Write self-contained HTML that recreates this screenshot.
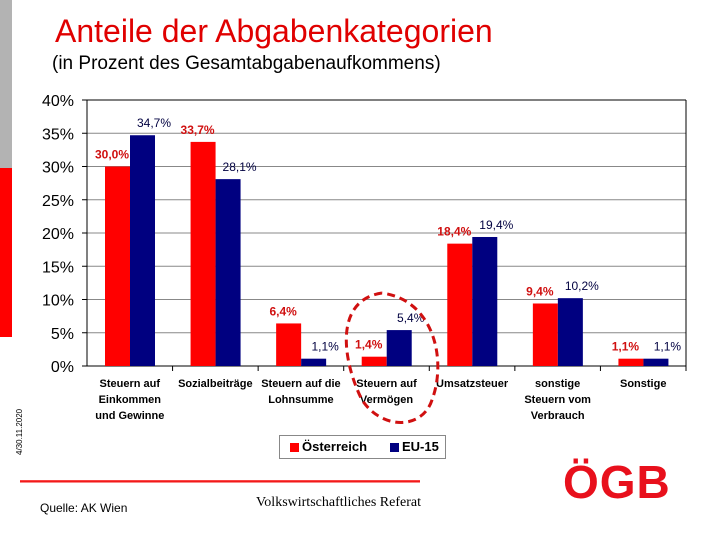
<!DOCTYPE html>
<html><head><meta charset="utf-8"><style>
body{margin:0;width:720px;height:540px;background:#fff;overflow:hidden;font-family:"Liberation Sans",Arial,sans-serif;position:relative}
.a{position:absolute}
</style></head><body>
<div class="a" style="left:0;top:0;width:12px;height:168px;background:#b3b3b3"></div>
<div class="a" style="left:0;top:168px;width:12px;height:169px;background:#ff0000"></div>
<div class="a" style="left:55px;top:13px;font-size:32px;color:#e00000">Anteile der Abgabenkategorien</div>
<div class="a" style="left:52px;top:53px;font-size:19px;color:#000">(in Prozent des Gesamtabgabenaufkommens)</div>
<div class="a" style="left:15px;top:455px;font-size:8px;transform:rotate(-90deg);transform-origin:0 0;white-space:nowrap">4/30.11.2020</div>
<svg class="a" style="left:0;top:0" width="720" height="540">
<g id="g"></g>
<path d="M382 293 C334 300 342 360 362 400 C382 430 422 430 432 400 C447 360 434 300 382 293" fill="none" stroke="#d01010" stroke-width="3" stroke-dasharray="8,5"/>
</svg>
<div class="a" style="left:279px;top:435px;width:165px;height:22px;border:1px solid #888;font-weight:bold;font-size:13px">
<span class="a" style="left:10px;top:7px;width:9px;height:9px;background:#f00"></span><span class="a" style="left:22px;top:3px">Österreich</span>
<span class="a" style="left:110px;top:7px;width:9px;height:9px;background:#000080"></span><span class="a" style="left:122px;top:3px">EU-15</span></div>
<div class="a" style="left:20px;top:480px;width:400px;height:3px;background:linear-gradient(#f66,#e00,#fcc)"></div>
<div class="a" style="left:40px;top:501px;font-size:12px">Quelle: AK Wien</div>
<div class="a" style="left:256px;top:495px;font-size:14px;font-family:'Liberation Serif',serif">Volkswirtschaftliches Referat</div>
<div class="a" style="left:563px;top:455px;font-size:46px;font-weight:bold;color:#e8101c;letter-spacing:1px">ÖGB</div>
<script>
const categories=[["Steuern auf","Einkommen","und Gewinne"],["Sozialbeiträge"],["Steuern auf die","Lohnsumme"],["Steuern auf","Vermögen"],["Umsatzsteuer"],["sonstige","Steuern vom","Verbrauch"],["Sonstige"]];
const austria=[30.0,33.7,6.4,1.4,18.4,9.4,1.1];
const eu15=[34.7,28.1,1.1,5.4,19.4,10.2,1.1];
const yTicks=[0,5,10,15,20,25,30,35,40];
const L=87,R=686,T=100,B=366,ymax=40;
const y=v=>B-(v/ymax)*(B-T);
const cw=(R-L)/categories.length;
const g=document.getElementById('g');const ns='http://www.w3.org/2000/svg';
function mk(t,a,txt){const e=document.createElementNS(ns,t);for(const k in a)e.setAttribute(k,a[k]);if(txt!==undefined)e.textContent=txt;g.appendChild(e);return e;}
const fmt=v=>v.toFixed(1).replace('.',',')+'%';
yTicks.forEach(t=>{const l=mk('line',{x1:L,x2:R,y1:y(t),y2:y(t),stroke:t==40?'#000':'#888','stroke-width':1});

const tx=mk('text',{x:74,y:y(t)+6,'text-anchor':'end','font-size':16,'font-family':'Liberation Sans'},t+'%');

mk('line',{x1:L-5,x2:L,y1:y(t),y2:y(t),stroke:'#000'});});
mk('line',{x1:L,x2:L,y1:T,y2:B,stroke:'#000'});mk('line',{x1:R,x2:R,y1:T,y2:B,stroke:'#000'});
mk('line',{x1:L,x2:R,y1:B,y2:B,stroke:'#000'});
categories.forEach((c,i)=>{const x0=L+i*cw;
mk('line',{x1:x0+cw,x2:x0+cw,y1:B,y2:B+5,stroke:'#000'});
const r=mk('rect',{x:x0+18,y:y(austria[i]),width:25,height:B-y(austria[i]),fill:'#ff0000'});

const b=mk('rect',{x:x0+43,y:y(eu15[i]),width:25,height:B-y(eu15[i]),fill:'#000080'});

const ra=mk('text',{x:x0+25,y:y(austria[i])-8,'text-anchor':'middle','font-size':12,'font-weight':'bold',fill:'#d01010','font-family':'Liberation Sans'},fmt(austria[i]));

const ea=mk('text',{x:x0+67,y:y(eu15[i])-8,'text-anchor':'middle','font-size':12,fill:'#000040','font-family':'Liberation Sans'},fmt(eu15[i]));

c.forEach((ln,j)=>{const t=mk('text',{x:x0+cw/2,y:387+j*16,'text-anchor':'middle','font-size':11,'font-weight':'bold','font-family':'Liberation Sans'},ln);
});});
</script>
</body></html>
